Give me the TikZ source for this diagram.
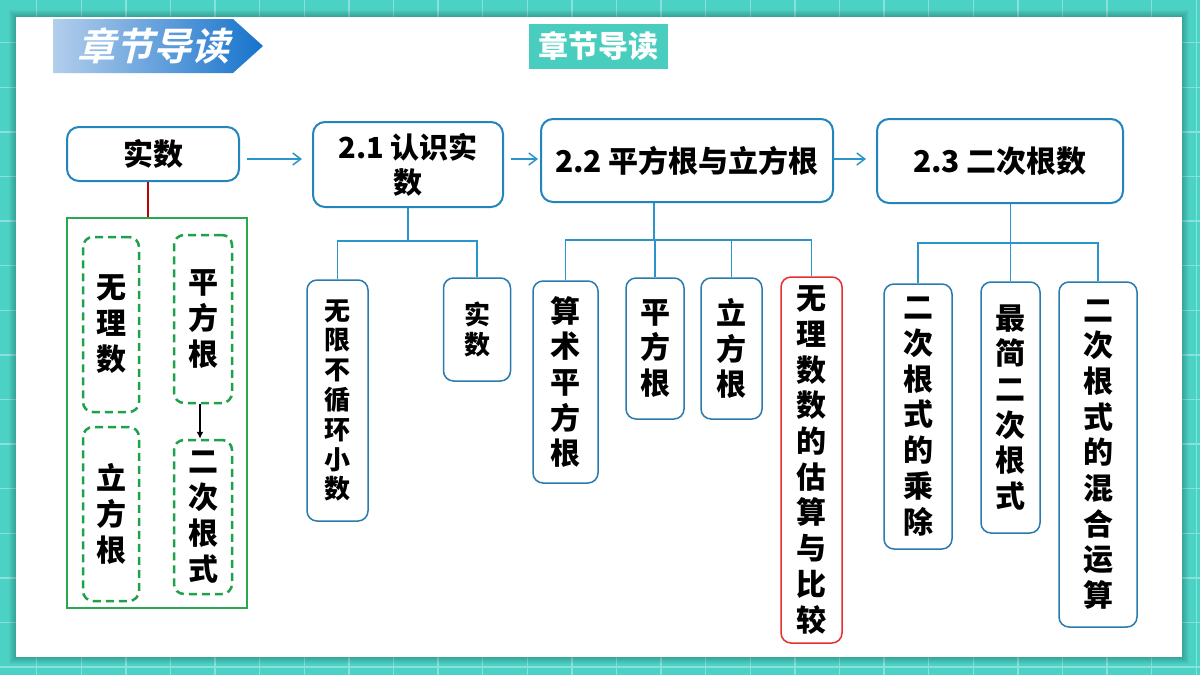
\documentclass[tikz,border=0pt]{standalone}
\usepackage{fontspec}
\setmainfont{Noto Sans CJK SC}
\newfontfamily\bannerfont{Noto Sans CJK SC Bold}[FakeSlant=0.25]
\usetikzlibrary{calc,arrows.meta}
\definecolor{bgteal}{HTML}{4BD2C4}
\definecolor{gridc}{HTML}{86E2DA}
\definecolor{titleteal}{HTML}{49CDBE}
\definecolor{boxblue}{HTML}{2385BE}
\definecolor{childblue}{HTML}{2A7AAE}
\definecolor{lineblue}{HTML}{2A95CA}
\definecolor{gborder}{HTML}{2AA84F}
\definecolor{dgreen}{HTML}{1FA04A}
\definecolor{redline}{HTML}{C00000}
\definecolor{redbox}{HTML}{E53030}
\definecolor{bannerlight}{HTML}{B3CEEC}
\definecolor{bannerdark}{HTML}{1673CC}
\begin{document}
\begin{tikzpicture}[x=1pt,y=-1pt,
  mainbox/.style={draw=boxblue, line width=2pt, rounded corners=12pt, fill=white, align=center, inner sep=0pt, font=\fontsize{30}{35}\selectfont\bfseries},
  childbox/.style={draw=childblue, line width=1.5pt, rounded corners=10pt, fill=white, align=center, inner sep=0pt, font=\fontsize{30}{35.7}\selectfont\bfseries},
  smallchild/.style={childbox, font=\fontsize{26}{29.8}\selectfont\bfseries},
  redchild/.style={childbox, draw=redbox},
  dashbox/.style={draw=dgreen, line width=2.5pt, dash pattern=on 8pt off 5pt, rounded corners=10pt, align=center, inner sep=0pt, font=\fontsize{30}{36}\selectfont\bfseries},
  conn/.style={draw=lineblue, line width=1.5pt},
  arr/.style={draw=lineblue, line width=1.5pt, -{Straight Barb[length=8pt,width=12pt]}},
  blackarr/.style={draw=black, line width=1.8pt, -{Latex[length=7pt,width=7pt]}},
  gridline/.style={draw=gridc, line width=1.5pt}
]
\useasboundingbox (0,0) rectangle (1200,675);
\fill[bgteal] (0,0) rectangle (1200,675);
\foreach \i in {0,...,26} \draw[gridline] ({36.7+44.6*\i},0) -- ({36.7+44.6*\i},675);
\foreach \j in {0,...,14} \draw[gridline] (0,{42.7+44.6*\j}) -- (1200,{42.7+44.6*\j});
\foreach \k in {1,...,7} \fill[black, opacity=0.03] (16-\k,17-\k) rectangle (1182+\k,657+\k);
\fill[white] (16,17) rectangle (1182,657);

% banner
\shade[left color=bannerlight, right color=bannerdark] (53,19) -- (233,19) -- (263,46) -- (233,73) -- (53,73) -- cycle;
\node[font=\bannerfont\fontsize{38}{38}\selectfont, text=white, inner sep=0pt] (banner) at (153,46) {章节导读};

% title
\node[fill=titleteal, minimum width=139pt, minimum height=45pt, inner sep=0pt, text=white, font=\fontsize{30}{30}\selectfont\bfseries] (title) at (598.5,46.5) {章节导读};

% main nodes
\node[mainbox, minimum width=172pt, minimum height=54pt] (sj) at (153,154) {实数};
\node[mainbox, minimum width=190pt, minimum height=85pt, font=\fontsize{29}{35}\selectfont\bfseries] (c21) at (408,164.5) {2.1 认识实\\数};
\node[mainbox, minimum width=292pt, minimum height=83pt] (c22) at (687,160.5) {2.2 平方根与立方根};
\node[mainbox, minimum width=246pt, minimum height=84pt] (c23) at (1000,161) {2.3 二次根数};

\coordinate (ay) at (0,159);
\draw[arr] ($(sj.east |- ay)+(7,0)$) -- ($(c21.west |- ay)+(-10,0)$);
\draw[arr] ($(c21.east |- ay)+(7,0)$) -- ($(c22.west |- ay)+(-2,0)$);
\draw[arr] (c22.east |- ay) -- ($(c23.west |- ay)+(-10,0)$);

% green container
\node[draw=gborder, line width=1.5pt, minimum width=180pt, minimum height=390pt, inner sep=0pt] (gc) at (157,413) {};
\draw[draw=redline, line width=1.2pt] ($(sj.south)+(-5,0)$) -- ($(sj.south |- gc.north)+(-5,0)$);
\node[dashbox, minimum width=56pt, minimum height=175pt] (wl) at (111,324.5) {无\\理\\数};
\node[dashbox, minimum width=58pt, minimum height=168pt] (pf) at (203,319) {平\\方\\根};
\node[dashbox, minimum width=56pt, minimum height=174pt] (lf) at (111,514) {立\\方\\根};
\node[dashbox, minimum width=58pt, minimum height=154pt] (ec) at (203,517) {二\\次\\根\\式};
\draw[blackarr] ($(pf.south)+(-3,0)$) -- ($(ec.north)+(-3,0)$);

% 2.1 children
\node[smallchild, minimum width=61pt, minimum height=241pt] (k1) at (337.5,400.5) {无\\限\\不\\循\\环\\小\\数};
\node[smallchild, minimum width=67pt, minimum height=103pt] (k2) at (477,329.5) {实\\数};
\coordinate (bus21) at (0,241);
\draw[conn] (c21.south) -- (c21.south |- bus21);
\draw[conn] (k1.north) |- (c21.south |- bus21);
\draw[conn] (k2.north) |- (c21.south |- bus21);

% 2.2 children
\node[childbox, minimum width=65pt, minimum height=202pt] (k3) at (565.5,382) {算\\术\\平\\方\\根};
\node[childbox, minimum width=58pt, minimum height=141pt] (k4) at (655,348.5) {平\\方\\根};
\node[childbox, minimum width=61pt, minimum height=141pt] (k5) at (731.5,348.5) {立\\方\\根};
\node[redchild, minimum width=61pt, minimum height=366pt] (k6) at (811.5,460) {无\\理\\数\\数\\的\\估\\算\\与\\比\\较};
\coordinate (stem22) at (654,240);
\draw[conn] (c22.south -| stem22) -- (stem22);
\draw[conn] (k3.north) |- (stem22);
\draw[conn] (k4.north) |- (stem22);
\draw[conn] (k5.north) |- (stem22);
\draw[conn] (k6.north) |- (stem22);

% 2.3 children
\node[childbox, minimum width=68pt, minimum height=265pt] (k7) at (918,416.5) {二\\次\\根\\式\\的\\乘\\除};
\node[childbox, minimum width=59pt, minimum height=251pt] (k8) at (1010.5,407.5) {最\\简\\二\\次\\根\\式};
\node[childbox, minimum width=78pt, minimum height=345pt] (k9) at (1098,454.5) {二\\次\\根\\式\\的\\混\\合\\运\\算};
\coordinate (bus23) at (0,243);
\draw[conn] (c23.south -| k8.north) -- (k8.north);
\draw[conn] (k7.north) |- (k8.north |- bus23);
\draw[conn] (k9.north) |- (k8.north |- bus23);
\end{tikzpicture}
\end{document}
